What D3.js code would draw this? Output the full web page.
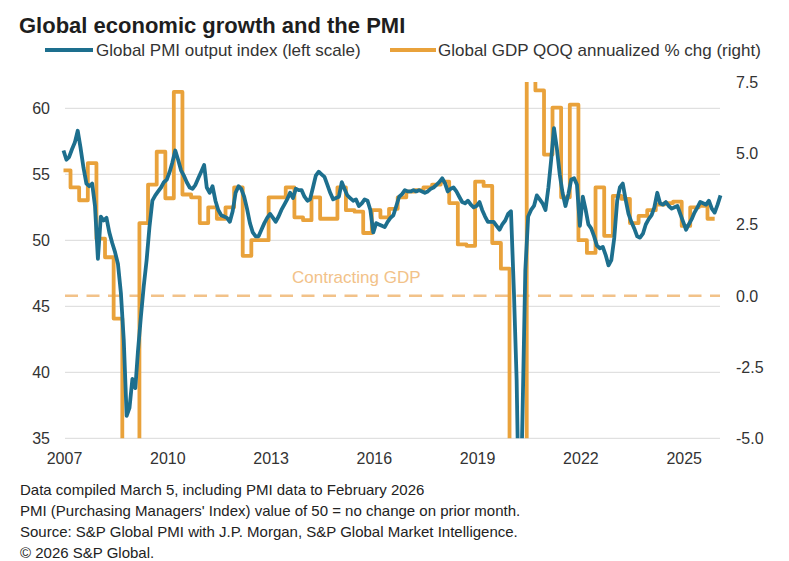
<!DOCTYPE html>
<meta charset="utf-8">
<script src="https://d3js.org/d3.v7.min.js"></script>
<style>
  body { margin: 0; background: #fff; }
  text { font-family: "Liberation Sans", Arial, sans-serif; }
</style>
<div id="chart"></div>
<script>
// Global PMI output index, monthly from Jan 2007 to Feb 2026
const pmi = [
  56.8, 56.1, 56.3, 56.9, 57.4, 58.3, 57.0, 55.5, 54.3, 54.1, 54.3, 52.6,
  48.6, 51.8, 51.5, 51.7, 50.6, 49.8, 49.1, 48.2, 46.0, 42.5, 36.7, 37.3,
  39.5, 38.8, 41.6, 44.2, 46.5, 48.5, 51.0, 53.0, 53.4, 53.7, 54.0, 54.4,
  54.6, 55.2, 55.9, 56.8, 56.1, 55.3, 54.9, 54.4, 54.0, 53.9, 54.2, 54.7,
  55.2, 55.7, 54.0, 53.6, 54.1, 53.0, 52.3, 51.9, 51.8, 51.7, 51.4, 52.2,
  53.6, 54.1, 53.9, 53.3, 52.4, 51.3, 50.6, 50.3, 50.3, 50.8, 51.3, 51.7,
  52.0, 51.7, 51.4, 51.8, 52.3, 52.7, 53.1, 53.6, 53.2, 53.9, 53.8, 53.8,
  53.3, 53.0, 53.1, 54.0, 54.9, 55.2, 55.0, 54.8, 54.2, 53.6, 53.1, 53.2,
  53.3, 54.4, 53.9, 53.4, 53.2, 53.0, 53.1, 52.6, 52.8, 53.1, 53.0, 52.3,
  50.6, 51.3, 51.2, 51.1, 51.0, 51.4, 51.7, 51.9, 52.6, 53.3, 53.5, 53.8,
  53.7, 53.7, 53.8, 53.7, 53.8, 53.7, 53.6, 53.7, 53.9, 54.0, 54.2, 54.4,
  54.7, 54.3, 53.7, 53.9, 54.0, 53.7, 53.3, 52.9, 52.8, 53.0, 52.7, 52.5,
  52.6, 52.9, 52.3, 51.8, 51.4, 51.4, 51.4, 51.1, 50.8, 51.2, 51.5, 52.0,
  52.2, 46.1, 39.4, 26.2, 36.3, 47.7, 51.8, 52.3, 52.6, 53.4, 53.1, 52.8,
  52.3, 54.0, 56.0, 58.5, 57.0, 55.0, 53.6, 52.6, 53.5, 54.6, 54.7, 54.2,
  51.1, 53.3, 52.4, 51.2, 50.9, 50.3, 49.6, 49.4, 49.5, 48.9, 48.1, 48.5,
  50.2, 53.0, 54.0, 54.3, 53.1, 52.0, 51.4, 50.9, 50.3, 50.2, 50.5, 51.2,
  51.6, 51.9, 52.5, 53.6, 52.8, 52.7, 52.9, 52.6, 52.4, 52.5, 52.6, 52.0,
  51.4, 50.8, 51.2, 51.6, 52.1, 52.5, 52.9, 52.8, 52.7, 53.0, 52.4, 52.1,
  52.7, 53.4
];

// Global GDP QOQ annualized % change, quarterly from Q1 2007 to Q4 2025
const gdp = [
  4.4, 3.8, 3.35, 4.65,
  2.0, 1.35, -0.8, -6.5,
  -8.0, 2.55, 3.9, 5.05,
  3.42, 7.15, 3.55, 3.45,
  2.55, 3.1, 2.7, 3.1,
  3.8, 1.4, 1.95, 1.95,
  3.45, 3.45, 3.8, 2.75,
  2.65, 3.45, 2.7, 2.7,
  3.8, 3.0, 2.95, 2.2,
  3.0, 2.75, 3.05, 3.45,
  3.65, 3.7, 3.8, 3.9,
  4.0, 3.25, 1.8, 1.75,
  4.0, 3.85, 1.85, 0.95,
  -9.0, -28.0, 35.0, 7.2,
  4.95, 6.6, 3.45, 6.7,
  1.95, 1.5, 3.8, 2.1,
  3.5, 3.4, 2.55, 2.8,
  3.0, 3.2, 3.25, 3.3,
  2.45, 3.1, 3.15, 2.7
];

const leftTicks = [35, 40, 45, 50, 55, 60];
const rightTicks = [-5.0, -2.5, 0.0, 2.5, 5.0, 7.5];
const yearTicks = [2007, 2010, 2013, 2016, 2019, 2022, 2025];

const footnotes = [
  "Data compiled March 5, including PMI data to February 2026",
  "PMI (Purchasing Managers' Index) value of 50 = no change on prior month.",
  "Source: S&P Global PMI with J.P. Morgan, S&P Global Market Intelligence.",
  "\u00a9 2026 S&P Global."
];

const width = 789
const height = 561
const blue = "#1d6f8e"
const orange = "#e9a23b"
const lightOrange = "#f2c289"

const pmiData = pmi.map((v, i) => ({ date: new Date(2007, i, 1), value: v }))
// every quarter is held for its three months
const gdpData = gdp.flatMap((v, q) => [0, 1, 2].map(k => ({ date: new Date(2007, q * 3 + k, 1), value: v })))

const svg = d3.select("#chart")
  .append("svg")
    .attr("width", width)
    .attr("height", height)
    .style("background-color", "white")

const x = d3.scaleTime()
  .domain([new Date(2007, 0, 1), new Date(2026, 1, 1)])
  .range([63.5, 720.5])

const yLeft = d3.scaleLinear()
  .domain([35, 62])
  .range([438.3, 81.9])

const yRight = d3.scaleLinear()
  .domain([-5, 7.5])
  .range([438.3, 81.9])

// title
svg.append("text")
  .attr("x", 19).attr("y", 33)
  .text("Global economic growth and the PMI")
  .style("font-size", "22px").style("font-weight", "bold").style("fill", "#1e1e1e")

// legend
svg.append("line").attr("x1", 45).attr("x2", 93).attr("y1", 50).attr("y2", 50)
  .style("stroke", blue).style("stroke-width", 4)
svg.append("text").attr("x", 96).attr("y", 56)
  .text("Global PMI output index (left scale)")
  .style("font-size", "17px").style("fill", "#333")
svg.append("line").attr("x1", 390).attr("x2", 436).attr("y1", 50).attr("y2", 50)
  .style("stroke", orange).style("stroke-width", 4)
svg.append("text").attr("x", 438).attr("y", 56)
  .text("Global GDP QOQ annualized % chg (right)")
  .style("font-size", "17px").style("fill", "#333")

// gridlines on the left scale
svg.append("g")
  .selectAll("line")
  .data(leftTicks)
  .join("line")
    .attr("x1", 65).attr("x2", 720)
    .attr("y1", d => yLeft(d)).attr("y2", d => yLeft(d))
    .style("stroke", "#d9d9d9").style("stroke-width", 1)

// left axis labels
svg.append("g")
  .selectAll("text")
  .data(leftTicks)
  .join("text")
    .attr("x", 50)
    .attr("y", d => yLeft(d) + 6)
    .attr("text-anchor", "end")
    .text(d => d)
    .style("font-size", "16px").style("fill", "#333")

// right axis labels
svg.append("g")
  .selectAll("text")
  .data(rightTicks)
  .join("text")
    .attr("x", 736)
    .attr("y", d => yRight(d) + 6)
    .text(d => d.toFixed(1))
    .style("font-size", "16px").style("fill", "#333")

// year labels
svg.append("g")
  .selectAll("text")
  .data(yearTicks)
  .join("text")
    .attr("x", d => x(new Date(d, 0, 1)) + 1)
    .attr("y", 464)
    .attr("text-anchor", "middle")
    .text(d => d)
    .style("font-size", "16px").style("fill", "#333")

// zero growth line
svg.append("line")
  .attr("x1", 65).attr("x2", 720)
  .attr("y1", yRight(0)).attr("y2", yRight(0))
  .style("stroke", lightOrange).style("stroke-width", 2.5)
  .style("stroke-dasharray", "13 8.5")

svg.append("text")
  .attr("x", 292).attr("y", 283)
  .text("Contracting GDP")
  .style("font-size", "17px").style("fill", lightOrange)

svg.append("clipPath").attr("id", "plot")
  .append("rect")
    .attr("x", 55).attr("y", 81.9)
    .attr("width", 680).attr("height", 438.3 - 81.9)

const plot = svg.append("g").attr("clip-path", "url(#plot)")

plot.append("path")
  .datum(gdpData)
  .attr("d", d3.line().curve(d3.curveStep).x(d => x(d.date)).y(d => yRight(d.value)))
  .style("fill", "none").style("stroke", orange).style("stroke-width", 3.8)
  .style("stroke-linejoin", "round")

plot.append("path")
  .datum(pmiData)
  .attr("d", d3.line().x(d => x(d.date)).y(d => yLeft(d.value)))
  .style("fill", "none").style("stroke", blue).style("stroke-width", 3.8)
  .style("stroke-linejoin", "round")

// footnotes
svg.append("g")
  .selectAll("text")
  .data(footnotes)
  .join("text")
    .attr("x", 20)
    .attr("y", (d, i) => 495 + i * 21)
    .text(d => d)
    .style("font-size", "15px").style("fill", "#222")
</script>
